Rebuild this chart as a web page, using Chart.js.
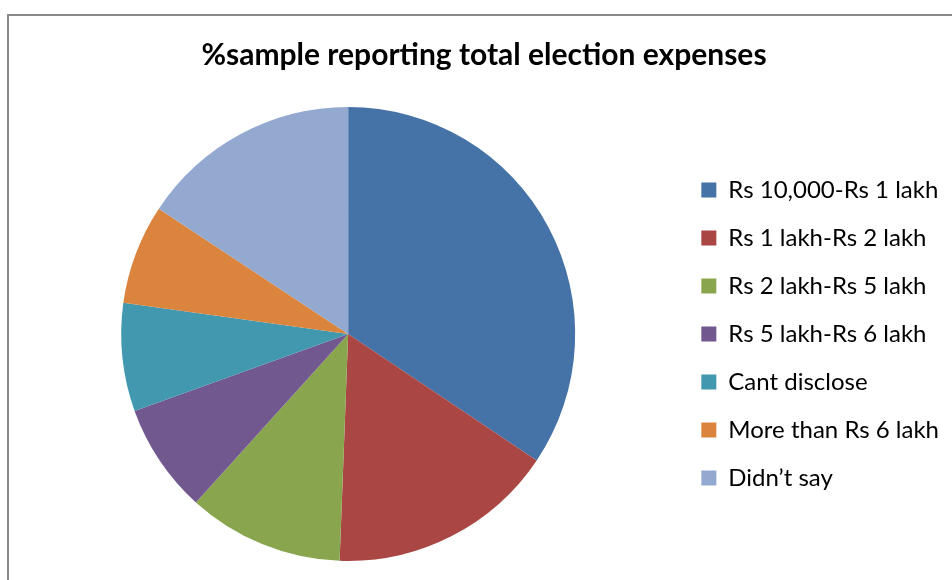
<html>
<head>
  <title></title>
  <style>
    body { margin: 0; background: #fff; overflow: hidden; }
    #frame { position: absolute; left: 7px; top: 14px; width: 1000px; height: 620px; border: 2px solid #8a8a8a; box-sizing: border-box; }
    #wrap { position: absolute; left: 0; top: 0; width: 952px; height: 580px; }
  </style>
</head>
<body>
  <div id="frame"></div>
  <div id="wrap">
  <canvas id="myChart"></canvas>
</div>

<script src="https://cdn.jsdelivr.net/npm/chart.js"></script>

<script>
  const labels = ['Rs 10,000-Rs 1 lakh', 'Rs 1 lakh-Rs 2 lakh', 'Rs 2 lakh-Rs 5 lakh', 'Rs 5 lakh-Rs 6 lakh', 'Cant disclose', 'More than Rs 6 lakh', 'Didn\u2019t say']
  const shares = [34.4, 16.2, 11.1, 7.8, 7.7, 7.1, 15.7] // % of sample
  const colors = ['#4572A7', '#AA4643', '#89A54E', '#71588F', '#4198AF', '#DB843D', '#93A9CF']

  const ctx = document.getElementById('myChart');
  new Chart(ctx, {
    type: 'pie',
    data: {
      labels: labels,
      datasets: [{
        data: shares,
        backgroundColor: colors,
        borderWidth: 0
      }]
    },
    options: {
      responsive: true,
      maintainAspectRatio: false,
      animation: false,
      layout: { padding: { left: 19, right: 3, top: 0, bottom: 19 } },
      plugins: {
        title: {
          display: true,
          text: '%sample reporting total election expenses',
          color: '#000',
          font: { family: 'Lato', size: 30, weight: 'bold' },
          padding: { top: 37, bottom: 34 }
        },
        legend: {
          position: 'right',
          fullSize: false,
          labels: {
            color: '#000',
            font: { family: 'Lato', size: 24 },
            boxWidth: 15,
            boxHeight: 15,
            padding: 24
          }
        },
        tooltip: { enabled: false }
      }
    }
  });
</script>

</body>
</html>
